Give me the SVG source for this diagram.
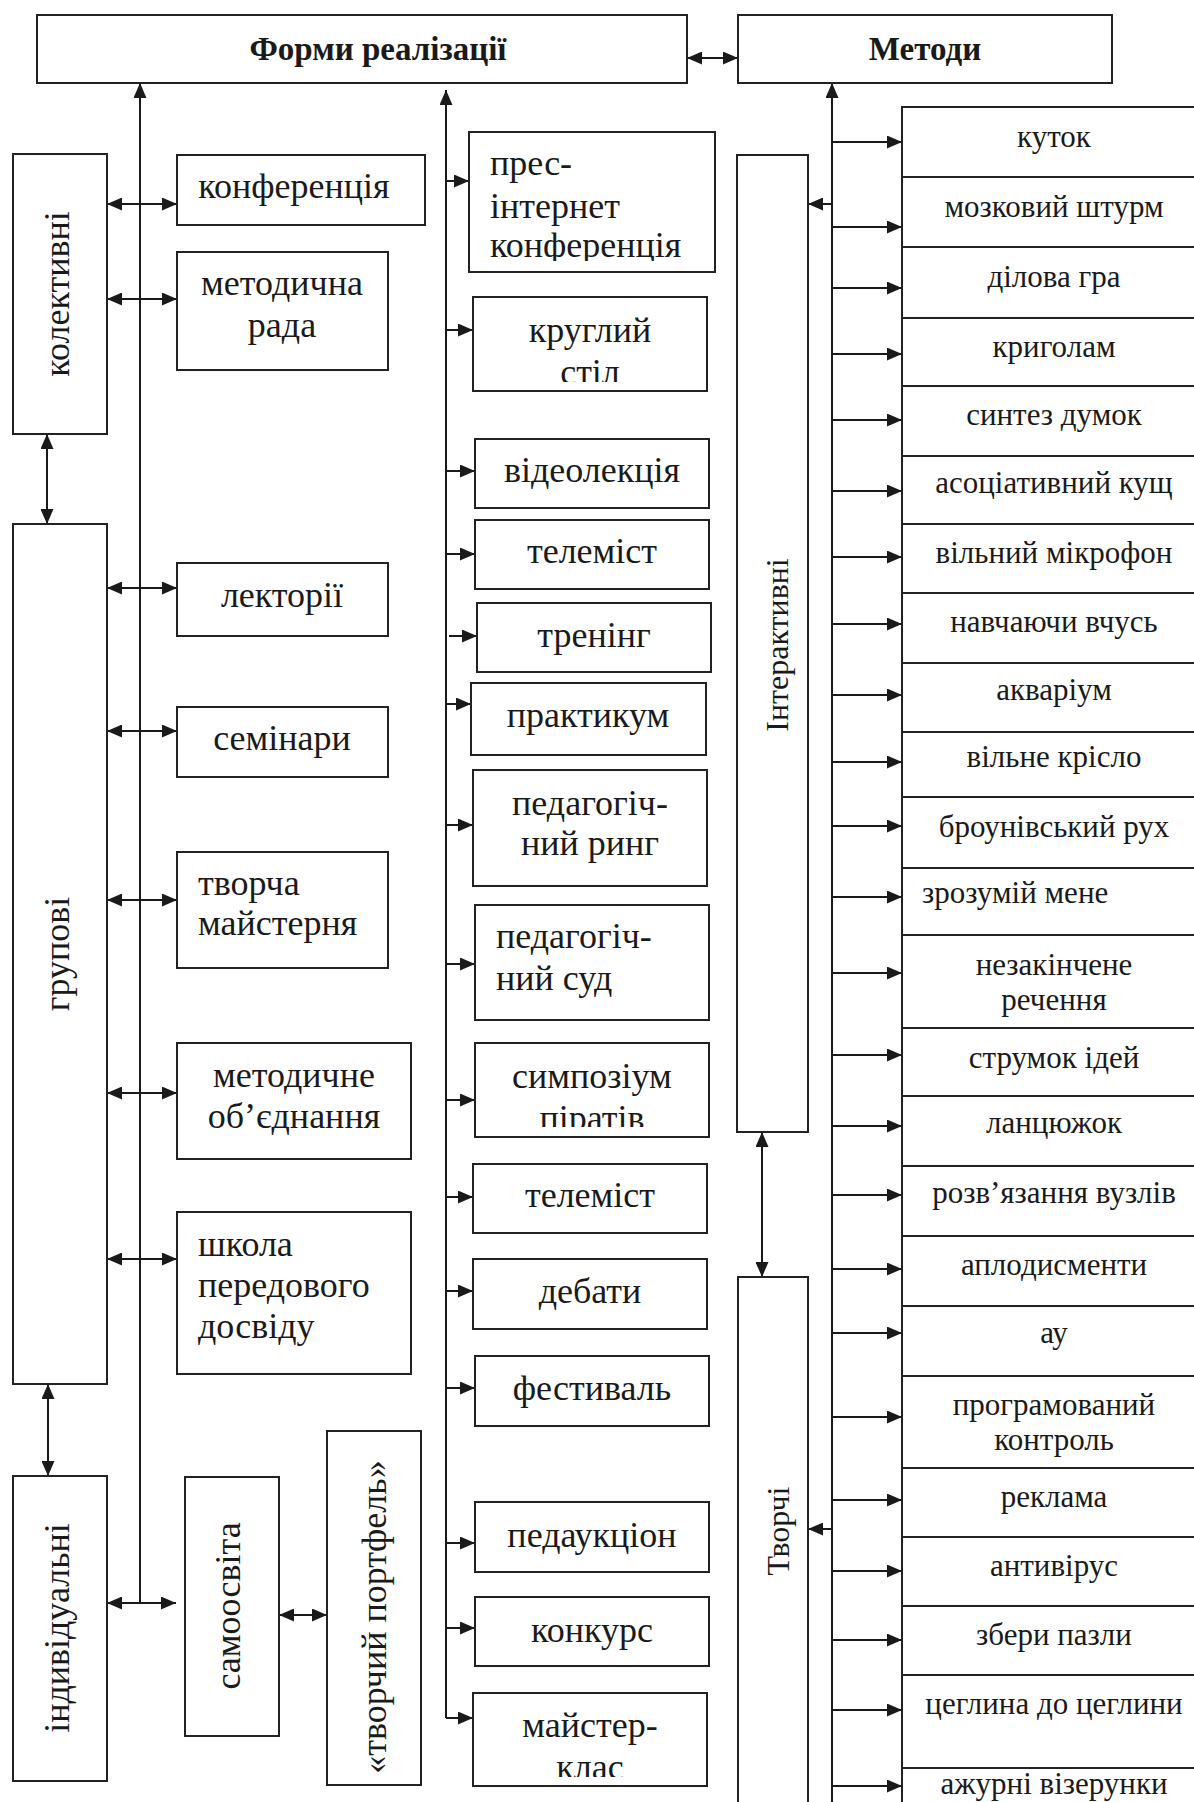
<svg xmlns="http://www.w3.org/2000/svg" width="1194" height="1802" viewBox="0 0 1194 1802">
<style>
.b{fill:#fff;stroke:#222;stroke-width:2}
.t{font-family:"Liberation Serif","Times New Roman",serif;font-size:36px;fill:#1a1a1a}
.m{font-size:31px}
.h{font-weight:bold;font-size:33px}
.c{text-anchor:middle}
.ln{stroke:#1a1a1a;stroke-width:2;fill:none}
.a{marker-end:url(#ah)}
.d{marker-start:url(#ah);marker-end:url(#ah)}
</style>
<defs>
<marker id="ah" markerUnits="userSpaceOnUse" markerWidth="15" markerHeight="13" refX="15" refY="6.5" orient="auto-start-reverse"><path d="M0,0L15,6.5L0,13z" fill="#1a1a1a"/></marker>
<clipPath id="cp1"><rect x="469" y="132" width="246" height="129"/></clipPath>
<clipPath id="cp2"><rect x="473" y="297" width="234" height="85"/></clipPath>
<clipPath id="cp3"><rect x="475" y="1043" width="234" height="84"/></clipPath>
<clipPath id="cp4"><rect x="473" y="1693" width="234" height="84"/></clipPath>
</defs>
<rect width="1194" height="1802" fill="#fff"/>

<g id="connectors">
<line class="ln a" x1="140" y1="1603" x2="140" y2="83"/>
<line class="ln a" x1="446" y1="1718" x2="446" y2="90"/>
<line class="ln a" x1="832" y1="1802" x2="832" y2="83"/>
<line class="ln d" x1="687" y1="58" x2="738" y2="58"/>
<line class="ln d" x1="47" y1="434" x2="47" y2="524"/>
<line class="ln d" x1="48" y1="1384" x2="48" y2="1476"/>
<line class="ln d" x1="762" y1="1132" x2="762" y2="1277"/>
<line class="ln d" x1="279" y1="1615" x2="327" y2="1615"/>
<line class="ln d" x1="107" y1="1603" x2="176" y2="1603"/>
<line class="ln d" x1="107" y1="204" x2="177" y2="204"/>
<line class="ln d" x1="107" y1="299" x2="177" y2="299"/>
<line class="ln d" x1="107" y1="588" x2="177" y2="588"/>
<line class="ln d" x1="107" y1="731" x2="177" y2="731"/>
<line class="ln d" x1="107" y1="900" x2="177" y2="900"/>
<line class="ln d" x1="107" y1="1093" x2="177" y2="1093"/>
<line class="ln d" x1="107" y1="1259" x2="177" y2="1259"/>
<line class="ln a" x1="446" y1="181" x2="469" y2="181"/>
<line class="ln a" x1="446" y1="330" x2="473" y2="330"/>
<line class="ln a" x1="446" y1="471" x2="475" y2="471"/>
<line class="ln a" x1="446" y1="554" x2="475" y2="554"/>
<line class="ln a" x1="449" y1="636" x2="477" y2="636"/>
<line class="ln a" x1="446" y1="704" x2="471" y2="704"/>
<line class="ln a" x1="446" y1="825" x2="473" y2="825"/>
<line class="ln a" x1="446" y1="964" x2="475" y2="964"/>
<line class="ln a" x1="446" y1="1100" x2="475" y2="1100"/>
<line class="ln a" x1="446" y1="1197" x2="473" y2="1197"/>
<line class="ln a" x1="446" y1="1291" x2="473" y2="1291"/>
<line class="ln a" x1="446" y1="1388" x2="475" y2="1388"/>
<line class="ln a" x1="446" y1="1543" x2="475" y2="1543"/>
<line class="ln a" x1="446" y1="1628" x2="475" y2="1628"/>
<line class="ln a" x1="446" y1="1718" x2="473" y2="1718"/>
<line class="ln a" x1="832" y1="204" x2="808" y2="204"/>
<line class="ln a" x1="832" y1="1529" x2="808" y2="1529"/>
<line class="ln a" x1="832" y1="142" x2="902" y2="142"/>
<line class="ln a" x1="832" y1="227" x2="902" y2="227"/>
<line class="ln a" x1="832" y1="288" x2="902" y2="288"/>
<line class="ln a" x1="832" y1="354" x2="902" y2="354"/>
<line class="ln a" x1="832" y1="420" x2="902" y2="420"/>
<line class="ln a" x1="832" y1="491" x2="902" y2="491"/>
<line class="ln a" x1="832" y1="557" x2="902" y2="557"/>
<line class="ln a" x1="832" y1="624" x2="902" y2="624"/>
<line class="ln a" x1="832" y1="695" x2="902" y2="695"/>
<line class="ln a" x1="832" y1="762" x2="902" y2="762"/>
<line class="ln a" x1="832" y1="826" x2="902" y2="826"/>
<line class="ln a" x1="832" y1="897" x2="902" y2="897"/>
<line class="ln a" x1="832" y1="973" x2="902" y2="973"/>
<line class="ln a" x1="832" y1="1055" x2="902" y2="1055"/>
<line class="ln a" x1="832" y1="1126" x2="902" y2="1126"/>
<line class="ln a" x1="832" y1="1195" x2="902" y2="1195"/>
<line class="ln a" x1="832" y1="1269" x2="902" y2="1269"/>
<line class="ln a" x1="832" y1="1333" x2="902" y2="1333"/>
<line class="ln a" x1="832" y1="1417" x2="902" y2="1417"/>
<line class="ln a" x1="832" y1="1500" x2="902" y2="1500"/>
<line class="ln a" x1="832" y1="1571" x2="902" y2="1571"/>
<line class="ln a" x1="832" y1="1640" x2="902" y2="1640"/>
<line class="ln a" x1="832" y1="1710" x2="902" y2="1710"/>
<line class="ln a" x1="832" y1="1786" x2="902" y2="1786"/>
</g>

<g id="forms"><rect class="b" x="37" y="15" width="650" height="68"/><text class="t h c" x="378" y="60">Форми реалізації</text></g>
<g id="methods"><rect class="b" x="738" y="15" width="374" height="68"/><text class="t h c" x="925" y="60">Методи</text></g>

<g id="kolektyvni"><rect class="b" x="13" y="154" width="94" height="280"/><text class="t c" transform="translate(69,294) rotate(-90)">колективні</text></g>
<g id="grupovi"><rect class="b" x="13" y="524" width="94" height="860"/><text class="t c" transform="translate(69,954) rotate(-90)">групові</text></g>
<g id="indyvidualni"><rect class="b" x="13" y="1476" width="94" height="305"/><text class="t c" transform="translate(69,1628) rotate(-90)">індивідуальні</text></g>
<g id="samoosvita"><rect class="b" x="185" y="1477" width="94" height="259"/><text class="t c" transform="translate(240,1606) rotate(-90)">самоосвіта</text></g>
<g id="portfel"><rect class="b" x="327" y="1431" width="94" height="354"/><text class="t c" transform="translate(386,1617) rotate(-90)">«творчий портфель»</text></g>

<g id="konferentsiia"><rect class="b" x="177" y="155" width="248" height="70"/><text class="t c" x="294" y="198">конференція</text></g>
<g id="metod-rada"><rect class="b" x="177" y="252" width="211" height="118"/><text class="t c" x="282" y="295">методична</text><text class="t c" x="282" y="337">рада</text></g>
<g id="lektorii"><rect class="b" x="177" y="563" width="211" height="73"/><text class="t c" x="282" y="607">лекторії</text></g>
<g id="seminary"><rect class="b" x="177" y="707" width="211" height="70"/><text class="t c" x="282" y="750">семінари</text></g>
<g id="tvorcha"><rect class="b" x="177" y="852" width="211" height="116"/><text class="t" x="198" y="895">творча</text><text class="t" x="198" y="935">майстерня</text></g>
<g id="metod-obiednannia"><rect class="b" x="177" y="1043" width="234" height="116"/><text class="t c" x="294" y="1087">методичне</text><text class="t c" x="294" y="1128">об’єднання</text></g>
<g id="shkola"><rect class="b" x="177" y="1212" width="234" height="162"/><text class="t" x="198" y="1256">школа</text><text class="t" x="198" y="1297">передового</text><text class="t" x="198" y="1338">досвіду</text></g>

<g id="pres"><rect class="b" x="469" y="132" width="246" height="140"/><g clip-path="url(#cp1)"><text class="t" x="490" y="175">прес-</text><text class="t" x="490" y="218">інтернет</text><text class="t" x="490" y="257">конференція</text></g></g>
<g id="kruglyi"><rect class="b" x="473" y="297" width="234" height="94"/><g clip-path="url(#cp2)"><text class="t c" x="590" y="342">круглий</text><text class="t c" x="590" y="384">стіл</text></g></g>
<g id="videolektsiia"><rect class="b" x="475" y="439" width="234" height="69"/><text class="t c" x="592" y="482">відеолекція</text></g>
<g id="telemist1"><rect class="b" x="475" y="520" width="234" height="69"/><text class="t c" x="592" y="563">телеміст</text></g>
<g id="trening"><rect class="b" x="477" y="603" width="234" height="69"/><text class="t c" x="594" y="647">тренінг</text></g>
<g id="praktykum"><rect class="b" x="471" y="683" width="235" height="72"/><text class="t c" x="588" y="727">практикум</text></g>
<g id="ryng"><rect class="b" x="473" y="770" width="234" height="116"/><text class="t c" x="590" y="815">педагогіч-</text><text class="t c" x="590" y="855">ний ринг</text></g>
<g id="sud"><rect class="b" x="475" y="905" width="234" height="115"/><text class="t" x="496" y="948">педагогіч-</text><text class="t" x="496" y="990">ний суд</text></g>
<g id="symposium"><rect class="b" x="475" y="1043" width="234" height="94"/><g clip-path="url(#cp3)"><text class="t c" x="592" y="1088">симпозіум</text><text class="t c" x="592" y="1130">піратів</text></g></g>
<g id="telemist2"><rect class="b" x="473" y="1164" width="234" height="69"/><text class="t c" x="590" y="1207">телеміст</text></g>
<g id="debaty"><rect class="b" x="473" y="1259" width="234" height="70"/><text class="t c" x="590" y="1303">дебати</text></g>
<g id="festyval"><rect class="b" x="475" y="1356" width="234" height="70"/><text class="t c" x="592" y="1400">фестиваль</text></g>
<g id="pedauktsion"><rect class="b" x="475" y="1502" width="234" height="70"/><text class="t c" x="592" y="1547">педаукціон</text></g>
<g id="konkurs"><rect class="b" x="475" y="1597" width="234" height="69"/><text class="t c" x="592" y="1642">конкурс</text></g>
<g id="maister"><rect class="b" x="473" y="1693" width="234" height="93"/><g clip-path="url(#cp4)"><text class="t c" x="590" y="1737">майстер-</text><text class="t c" x="590" y="1779">клас</text></g></g>

<g id="interaktyvni"><rect class="b" x="737" y="155" width="71" height="977"/><text class="t c" style="font-size:32px" transform="translate(788,645) rotate(-90)">Інтерактивні</text></g>
<g id="tvorchi"><rect class="b" x="738" y="1277" width="70" height="540"/><text class="t c" style="font-size:32px" transform="translate(789,1531) rotate(-90)">Творчі</text></g>

<g id="m1"><rect class="b" x="902" y="107" width="310" height="70"/><text class="t m c" x="1054" y="147">куток</text></g>
<g id="m2"><rect class="b" x="902" y="177" width="310" height="70"/><text class="t m c" x="1054" y="217">мозковий штурм</text></g>
<g id="m3"><rect class="b" x="902" y="247" width="310" height="71"/><text class="t m c" x="1054" y="287">ділова гра</text></g>
<g id="m4"><rect class="b" x="902" y="318" width="310" height="68"/><text class="t m c" x="1054" y="357">криголам</text></g>
<g id="m5"><rect class="b" x="902" y="386" width="310" height="70"/><text class="t m c" x="1054" y="425">синтез думок</text></g>
<g id="m6"><rect class="b" x="902" y="456" width="310" height="68"/><text class="t m c" x="1054" y="493">асоціативний кущ</text></g>
<g id="m7"><rect class="b" x="902" y="524" width="310" height="69"/><text class="t m c" x="1054" y="563">вільний мікрофон</text></g>
<g id="m8"><rect class="b" x="902" y="593" width="310" height="70"/><text class="t m c" x="1054" y="632">навчаючи вчусь</text></g>
<g id="m9"><rect class="b" x="902" y="663" width="310" height="69"/><text class="t m c" x="1054" y="700">акваріум</text></g>
<g id="m10"><rect class="b" x="902" y="732" width="310" height="65"/><text class="t m c" x="1054" y="767">вільне крісло</text></g>
<g id="m11"><rect class="b" x="902" y="797" width="310" height="71"/><text class="t m c" x="1054" y="837">броунівський рух</text></g>
<g id="m12"><rect class="b" x="902" y="868" width="310" height="67"/><text class="t m" x="922" y="903">зрозумій мене</text></g>
<g id="m13"><rect class="b" x="902" y="935" width="310" height="93"/><text class="t m c" x="1054" y="975">незакінчене</text><text class="t m c" x="1054" y="1010">речення</text></g>
<g id="m14"><rect class="b" x="902" y="1028" width="310" height="68"/><text class="t m c" x="1054" y="1068">струмок ідей</text></g>
<g id="m15"><rect class="b" x="902" y="1096" width="310" height="70"/><text class="t m c" x="1054" y="1133">ланцюжок</text></g>
<g id="m16"><rect class="b" x="902" y="1166" width="310" height="70"/><text class="t m c" x="1054" y="1203">розв’язання вузлів</text></g>
<g id="m17"><rect class="b" x="902" y="1236" width="310" height="70"/><text class="t m c" x="1054" y="1275">аплодисменти</text></g>
<g id="m18"><rect class="b" x="902" y="1306" width="310" height="70"/><text class="t m c" x="1054" y="1343">ау</text></g>
<g id="m19"><rect class="b" x="902" y="1376" width="310" height="92"/><text class="t m c" x="1054" y="1415">програмований</text><text class="t m c" x="1054" y="1450">контроль</text></g>
<g id="m20"><rect class="b" x="902" y="1468" width="310" height="69"/><text class="t m c" x="1054" y="1507">реклама</text></g>
<g id="m21"><rect class="b" x="902" y="1537" width="310" height="69"/><text class="t m c" x="1054" y="1576">антивірус</text></g>
<g id="m22"><rect class="b" x="902" y="1606" width="310" height="69"/><text class="t m c" x="1054" y="1645">збери пазли</text></g>
<g id="m23"><rect class="b" x="902" y="1675" width="310" height="93"/><text class="t m c" x="1054" y="1714">цеглина до цеглини</text></g>
<g id="m24"><rect class="b" x="902" y="1768" width="310" height="70"/><text class="t m c" x="1054" y="1794">ажурні візерунки</text></g>
</svg>
